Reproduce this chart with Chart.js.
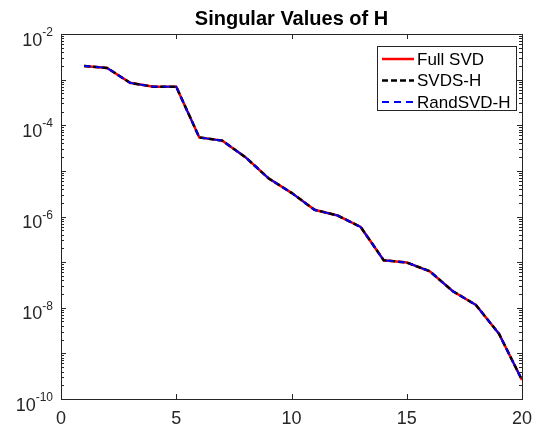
<!DOCTYPE html>
<html>
<head>
<meta charset="utf-8">
<title>Singular Values of H</title>
<script src="https://cdn.jsdelivr.net/npm/chart.js@4/dist/chart.umd.min.js"></script>
<style>
  html, body { margin: 0; padding: 0; background: #fff; }
  #chart { display: block; }
</style>
</head>
<body>
<canvas id="chart" width="533" height="426"></canvas>
<script>
// singular value index
const idx = [1, 2, 3, 4, 5, 6, 7, 8, 9, 10, 11, 12, 13, 14, 15, 16, 17, 18, 19, 20];

// singular values (all three methods overlap)
const fullSvd = [2.0e-3, 1.8e-3, 8.5e-4, 7.0e-4, 7.0e-4, 5.4e-5, 4.6e-5, 2.0e-5, 6.9e-6, 3.3e-6,
                 1.4e-6, 1.05e-6, 5.9e-7, 1.1e-7, 9.8e-8, 6.3e-8, 2.3e-8, 1.15e-8, 2.7e-9, 2.6e-10];
const svdsH = [2.0e-3, 1.8e-3, 8.5e-4, 7.0e-4, 7.0e-4, 5.4e-5, 4.6e-5, 2.0e-5, 6.9e-6, 3.3e-6,
               1.4e-6, 1.05e-6, 5.9e-7, 1.1e-7, 9.8e-8, 6.3e-8, 2.3e-8, 1.15e-8, 2.7e-9, 2.6e-10];
const randSvdH = [2.0e-3, 1.8e-3, 8.5e-4, 7.0e-4, 7.0e-4, 5.4e-5, 4.6e-5, 2.0e-5, 6.9e-6, 3.3e-6,
                  1.4e-6, 1.05e-6, 5.9e-7, 1.1e-7, 9.8e-8, 6.3e-8, 2.3e-8, 1.15e-8, 2.7e-9, 2.6e-10];

const seriesNames = ["Full SVD", "SVDS-H", "RandSVD-H"];
const xTicks = [0, 5, 10, 15, 20];
const yExponents = [-2, -4, -6, -8, -10];
const titleText = "Singular Values of H";

const FONT = "'Liberation Sans', Arial, Helvetica, sans-serif";
const INK = "#262626";

function toPoints(vals) {
  return vals.map((v, i) => ({ x: idx[i], y: v }));
}

// draws the matlab style box, ticks, labels, title and legend
const matlabAxes = {
  id: "matlabAxes",
  afterDraw(chart) {
    const ctx = chart.ctx;
    const area = chart.chartArea;
    const xs = chart.scales.x;
    const ys = chart.scales.y;
    ctx.save();
    ctx.strokeStyle = INK;
    ctx.lineWidth = 1;

    // box
    ctx.strokeRect(Math.round(area.left) + 0.5, Math.round(area.top) + 0.5,
      Math.round(area.right - area.left), Math.round(area.bottom - area.top));

    // x ticks (bottom and top, pointing inward)
    ctx.beginPath();
    xTicks.forEach(t => {
      const px = Math.round(xs.getPixelForValue(t)) + 0.5;
      ctx.moveTo(px, area.bottom); ctx.lineTo(px, area.bottom - 5);
      ctx.moveTo(px, area.top); ctx.lineTo(px, area.top + 5);
    });
    // y ticks, major each decade and minor 2..9
    for (let e = -10; e <= -2; e++) {
      const py = Math.round(ys.getPixelForValue(Math.pow(10, e))) + 0.5;
      ctx.moveTo(area.left, py); ctx.lineTo(area.left + 5, py);
      ctx.moveTo(area.right, py); ctx.lineTo(area.right - 5, py);
      if (e < -2) {
        for (let m = 2; m <= 9; m++) {
          const pm = Math.round(ys.getPixelForValue(m * Math.pow(10, e))) + 0.5;
          ctx.moveTo(area.left, pm); ctx.lineTo(area.left + 3, pm);
          ctx.moveTo(area.right, pm); ctx.lineTo(area.right - 3, pm);
        }
      }
    }
    ctx.stroke();

    // x tick labels
    ctx.fillStyle = INK;
    ctx.font = "18px " + FONT;
    ctx.textAlign = "center";
    ctx.textBaseline = "alphabetic";
    xTicks.forEach(t => {
      ctx.fillText(String(t), xs.getPixelForValue(t), area.bottom + 25);
    });

    // y tick labels as 10 with superscript exponent
    yExponents.forEach(e => {
      const py = ys.getPixelForValue(Math.pow(10, e));
      const right = area.left - 8;
      ctx.font = "12px " + FONT;
      ctx.textAlign = "right";
      const expStr = "-" + Math.abs(e);
      const expW = ctx.measureText(expStr).width;
      ctx.fillText(expStr, right, py + 2);
      ctx.font = "18px " + FONT;
      ctx.fillText("10", right - expW, py + 11.5);
    });

    // title
    ctx.font = "bold 20px " + FONT;
    ctx.textAlign = "center";
    ctx.fillStyle = "#000";
    ctx.fillText(titleText, (area.left + area.right) / 2, 25);

    // legend
    const lx = 377, ly = 46, lw = 139, lh = 64;
    ctx.fillStyle = "#fff";
    ctx.fillRect(lx, ly, lw, lh);
    ctx.strokeStyle = INK;
    ctx.lineWidth = 1;
    ctx.strokeRect(lx + 0.5, ly + 0.5, lw, lh);
    chart.data.datasets.forEach(ds => {
      const row = seriesNames.indexOf(ds.label);
      const yy = ly + 13 + row * 21.5;
      ctx.beginPath();
      ctx.strokeStyle = ds.borderColor;
      ctx.lineWidth = ds.borderWidth;
      ctx.setLineDash(ds.borderDash || []);
      ctx.moveTo(lx + 5, yy);
      ctx.lineTo(lx + 37, yy);
      ctx.stroke();
      ctx.setLineDash([]);
      ctx.fillStyle = "#000";
      ctx.font = "17px " + FONT;
      ctx.textAlign = "left";
      ctx.textBaseline = "middle";
      ctx.fillText(ds.label, lx + 40, yy + 1);
    });
    ctx.restore();
  }
};

new Chart(document.getElementById("chart"), {
  type: "line",
  data: {
    datasets: [
      {
        label: seriesNames[0],
        data: toPoints(fullSvd),
        borderColor: "#ff0000",
        borderWidth: 2.5,
        pointRadius: 0,
        order: 2
      },
      {
        label: seriesNames[1],
        data: toPoints(svdsH),
        borderColor: "#000000",
        borderWidth: 2.5,
        borderDash: [6, 3],
        pointRadius: 0,
        order: 1
      },
      {
        label: seriesNames[2],
        data: toPoints(randSvdH),
        borderColor: "#0000ff",
        borderWidth: 1.8,
        borderDash: [7, 5],
        pointRadius: 0,
        order: 0
      }
    ]
  },
  options: {
    responsive: false,
    animation: false,
    layout: { padding: { left: 61, right: 11, top: 34, bottom: 27 } },
    plugins: {
      legend: { display: false },
      title: { display: false },
      tooltip: { enabled: false }
    },
    scales: {
      x: { type: "linear", min: 0, max: 20, display: false },
      y: { type: "logarithmic", min: 1e-10, max: 1e-2, display: false }
    }
  },
  plugins: [matlabAxes]
});
</script>
</body>
</html>
